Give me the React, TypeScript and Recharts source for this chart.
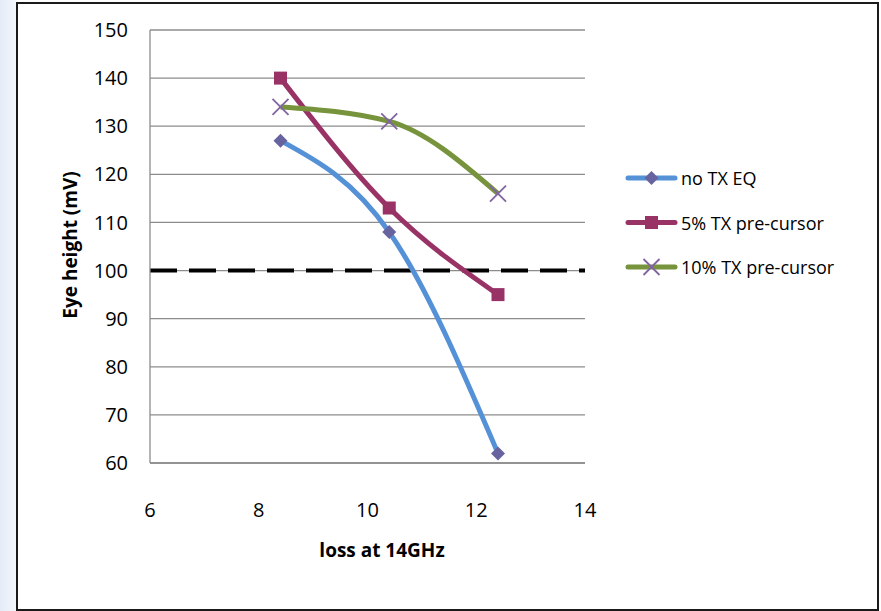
import React from "react";
import {
  CartesianGrid,
  Line,
  LineChart,
  ReferenceLine,
  XAxis,
  YAxis,
} from "recharts";

const lossValues = [8.4, 10.4, 12.4];
const noTxEq = [127, 108, 62];
const pre5 = [140, 113, 95];
const pre10 = [134, 131, 116];
const xTicks = [6, 8, 10, 12, 14];
const yTicks = [60, 70, 80, 90, 100, 110, 120, 130, 140, 150];
const threshold = 100;

const seriesNames = ["no TX EQ", "5% TX pre-cursor", "10% TX pre-cursor"];
const seriesKeys = ["noTxEq", "pre5", "pre10"];
const lineColors = ["#5591D6", "#993366", "#77933C"];

const data = lossValues.map((x, i) => ({
  x,
  noTxEq: noTxEq[i],
  pre5: pre5[i],
  pre10: pre10[i],
}));

const FONT = "'Open Sans', 'Liberation Sans', sans-serif";

function Diamond({ cx, cy }: any) {
  if (cx == null || cy == null) return null;
  const r = 7;
  return (
    <polygon
      points={`${cx},${cy - r} ${cx + r},${cy} ${cx},${cy + r} ${cx - r},${cy}`}
      fill="#67639E"
    />
  );
}

function Square({ cx, cy }: any) {
  if (cx == null || cy == null) return null;
  const s = 13;
  return <rect x={cx - s / 2} y={cy - s / 2} width={s} height={s} fill="#993366" />;
}

function Cross({ cx, cy }: any) {
  if (cx == null || cy == null) return null;
  const r = 8;
  return (
    <g stroke="#8064A2" strokeWidth={1.8}>
      <line x1={cx - r} y1={cy - r} x2={cx + r} y2={cy + r} />
      <line x1={cx - r} y1={cy + r} x2={cx + r} y2={cy - r} />
    </g>
  );
}

const markers = [Diamond, Square, Cross];

function Legend() {
  const top = 178;
  const gap = 44.5;
  return (
    <svg
      width={881}
      height={611}
      style={{ position: "absolute", left: 0, top: 0, pointerEvents: "none" }}
    >
      {seriesNames.map((name, i) => {
        const y = top + i * gap;
        const Marker = markers[i];
        return (
          <g key={name}>
            <line
              x1={628}
              x2={675}
              y1={y}
              y2={y}
              stroke={lineColors[i]}
              strokeWidth={5}
              strokeLinecap="round"
            />
            <Marker cx={651.5} cy={y} />
            <text
              x={681}
              y={y}
              dominantBaseline="central"
              fontFamily={FONT}
              fontSize={18}
              fill="#000"
            >
              {name}
            </text>
          </g>
        );
      })}
    </svg>
  );
}

export default function App() {
  return (
    <div
      style={{
        position: "absolute",
        left: 0,
        top: 0,
        width: 881,
        height: 611,
        background: "linear-gradient(90deg, #e4ecf7 0px, #f4f7fc 17px, #ffffff 18px)",
        overflow: "hidden",
      }}
    >
      <div
        style={{
          position: "absolute",
          left: 16,
          top: 2,
          width: 863,
          height: 609,
          border: "2px solid #1a1a1a",
          boxSizing: "border-box",
          background: "#fff",
        }}
      />
      <div style={{ position: "absolute", left: 0, top: 0 }}>
        <LineChart
          width={881}
          height={611}
          data={data}
          margin={{ top: 30, right: 296, left: 90, bottom: 48 }}
        >
          <CartesianGrid
            vertical={false}
            stroke="#8c8c8c"
            strokeWidth={1.3}
          />
          <XAxis
            dataKey="x"
            type="number"
            domain={[6, 14]}
            ticks={xTicks}
            height={100}
            axisLine={{ stroke: "#8c8c8c", strokeWidth: 1.3 }}
            tickLine={false}
            tickSize={6}
            tickMargin={34}
            tick={{ fill: "#000", fontSize: 20, fontFamily: FONT }}
            label={{
              content: () => (
                <text
                  x={382}
                  y={550}
                  textAnchor="middle"
                  dominantBaseline="central"
                  fontFamily={FONT}
                  fontSize={19}
                  fontWeight="bold"
                  fill="#000"
                >
                  loss at 14GHz
                </text>
              ),
            }}
          />
          <YAxis
            type="number"
            domain={[60, 150]}
            ticks={yTicks}
            width={60}
            axisLine={{ stroke: "#8c8c8c", strokeWidth: 1.3 }}
            tickLine={false}
            tickSize={6}
            tickMargin={16}
            tick={{ fill: "#000", fontSize: 20, fontFamily: FONT }}
            label={{
              content: () => (
                <text
                  x={70}
                  y={245}
                  transform="rotate(-90 70 245)"
                  textAnchor="middle"
                  dominantBaseline="central"
                  fontFamily={FONT}
                  fontSize={19}
                  fontWeight="bold"
                  fill="#000"
                >
                  Eye height (mV)
                </text>
              ),
            }}
          />
          <ReferenceLine
            y={threshold}
            stroke="#000"
            strokeWidth={4}
            strokeDasharray="27 12"
          />
          {seriesKeys.map((key, i) => (
            <Line
              key={key}
              dataKey={key}
              name={seriesNames[i]}
              type="monotone"
              stroke={lineColors[i]}
              strokeWidth={5}
              dot={markers[i]}
              activeDot={false}
              isAnimationActive={false}
            />
          ))}
        </LineChart>
      </div>
      <Legend />
    </div>
  );
}
